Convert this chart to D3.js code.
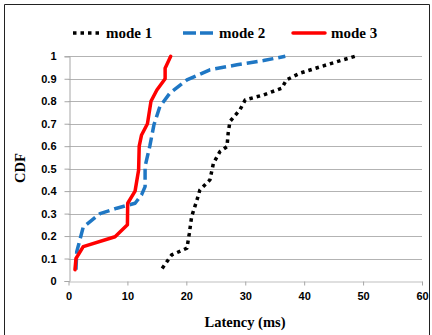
<!DOCTYPE html>
<html><head><meta charset="utf-8">
<script src="https://cdn.jsdelivr.net/npm/d3@7"></script>
<style>body{margin:0;background:#fff}svg{display:block}</style>
</head><body><svg id="c" width="432" height="335"></svg>
<script>
const seriesNames = ["mode 1", "mode 2", "mode 3"];
const mode1X = [15.9,17.5,20.1,20.5,20.9,21.8,22.3,24.0,24.6,25.7,26.9,27.1,27.4,29.1,30.0,33.1,36.2,37.0,39.3,43.8,48.6];
const mode1Y = [0.056,0.116,0.146,0.21,0.287,0.36,0.405,0.45,0.524,0.576,0.598,0.658,0.71,0.762,0.806,0.828,0.858,0.895,0.925,0.962,1.0];
const mode2X = [1.27,1.4,2.5,5.35,8.2,11.3,12.4,13.0,13.0,13.8,14.5,15.5,17.2,20.1,24.0,28.6,33.1,36.8];
const mode2Y = [0.05,0.13,0.24,0.30,0.324,0.346,0.383,0.42,0.51,0.60,0.695,0.776,0.836,0.895,0.94,0.962,0.981,1.0];
const mode3X = [1.1,1.27,2.5,7.9,10.0,10.05,11.3,11.9,12.0,12.4,13.4,14.0,15.0,16.4,16.4,17.35];
const mode3Y = [0.05,0.10,0.153,0.197,0.25,0.346,0.40,0.494,0.60,0.65,0.70,0.80,0.85,0.90,0.947,1.0];
const xTicks = [0,10,20,30,40,50,60];
const yTicks = [0,0.1,0.2,0.3,0.4,0.5,0.6,0.7,0.8,0.9,1];

const svg = d3.select("#c");
const x = d3.scaleLinear().domain([0,60]).range([68.5,422]);
const y = d3.scaleLinear().domain([0,1]).range([281,56.3]);

// outer border
svg.append("path").attr("d","M4.5,335V4.5H429.5V335").attr("fill","none").attr("stroke","#222").attr("stroke-width",1);

// gridlines
svg.append("g").selectAll("line").data(yTicks.slice(1)).join("line")
  .attr("x1",x(0)).attr("x2",x(60)).attr("y1",d=>Math.round(y(d))+0.5).attr("y2",d=>Math.round(y(d))+0.5)
  .attr("stroke","#b3b3b3").attr("stroke-width",1);

const serif = "'Liberation Serif','Times New Roman',serif";
const sans = "'Liberation Sans',Arial,sans-serif";

// y axis
const yAxis = svg.append("g").attr("transform",`translate(${Math.round(x(0))+0.5},0)`)
  .call(d3.axisLeft(y).tickValues(yTicks).tickFormat(d3.format("")).tickSize(5).tickPadding(8));
yAxis.select(".domain").attr("stroke","#a6a6a6");
yAxis.selectAll(".tick line").attr("stroke","#a6a6a6");
yAxis.selectAll("text").attr("font-family",sans).attr("font-weight","bold").attr("font-size",11).attr("fill","#000");

// x axis
const xAxis = svg.append("g").attr("transform",`translate(0,${Math.round(y(0))+0.5})`)
  .call(d3.axisBottom(x).tickValues(xTicks).tickSize(4).tickSizeOuter(0).tickPadding(7));
xAxis.select(".domain").attr("stroke","#bfbfbf");
xAxis.selectAll(".tick line").attr("stroke","#a6a6a6");
xAxis.selectAll("text").attr("font-family",sans).attr("font-weight","bold").attr("font-size",11).attr("fill","#000");

// lines
const line = d3.line().x(d=>x(d[0])).y(d=>y(d[1]));
const data = [d3.zip(mode1X,mode1Y), d3.zip(mode2X,mode2Y), d3.zip(mode3X,mode3Y)];
const styles = [
  {color:"#000000", width:3.5, dash:"3.5,4", cap:"butt"},
  {color:"#1f77c4", width:3.5, dash:"11,5", cap:"butt"},
  {color:"#ff0000", width:3.5, dash:null, cap:"round"}
];
data.forEach((d,i)=>{
  svg.append("path").datum(d).attr("d",line).attr("fill","none")
    .attr("stroke",styles[i].color).attr("stroke-width",styles[i].width)
    .attr("stroke-dasharray",styles[i].dash).attr("stroke-linecap",styles[i].cap)
    .attr("stroke-linejoin","round");
});

// legend
const legX = [73,183,293];
const legLen = [27,30,32];
const lg = svg.append("g");
seriesNames.forEach((n,i)=>{
  lg.append("line").attr("x1",legX[i]).attr("x2",legX[i]+legLen[i]).attr("y1",33).attr("y2",33)
    .attr("stroke",styles[i].color).attr("stroke-width",styles[i].width)
    .attr("stroke-dasharray", i===0?"3.5,4": i===1?"13,4":null).attr("stroke-linecap",styles[i].cap);
  lg.append("text").attr("x",legX[i]+legLen[i]+6).attr("y",38).text(n)
    .attr("font-family",serif).attr("font-weight","bold").attr("font-size",15).attr("fill","#000");
});

// axis titles
svg.append("text").attr("x",245).attr("y",327).attr("text-anchor","middle").text("Latency (ms)")
  .attr("font-family",serif).attr("font-weight","bold").attr("font-size",14.5);
svg.append("text").attr("transform","translate(25,168) rotate(-90)").attr("text-anchor","middle").text("CDF")
  .attr("font-family",serif).attr("font-weight","bold").attr("font-size",14.5);
</script></body></html>
